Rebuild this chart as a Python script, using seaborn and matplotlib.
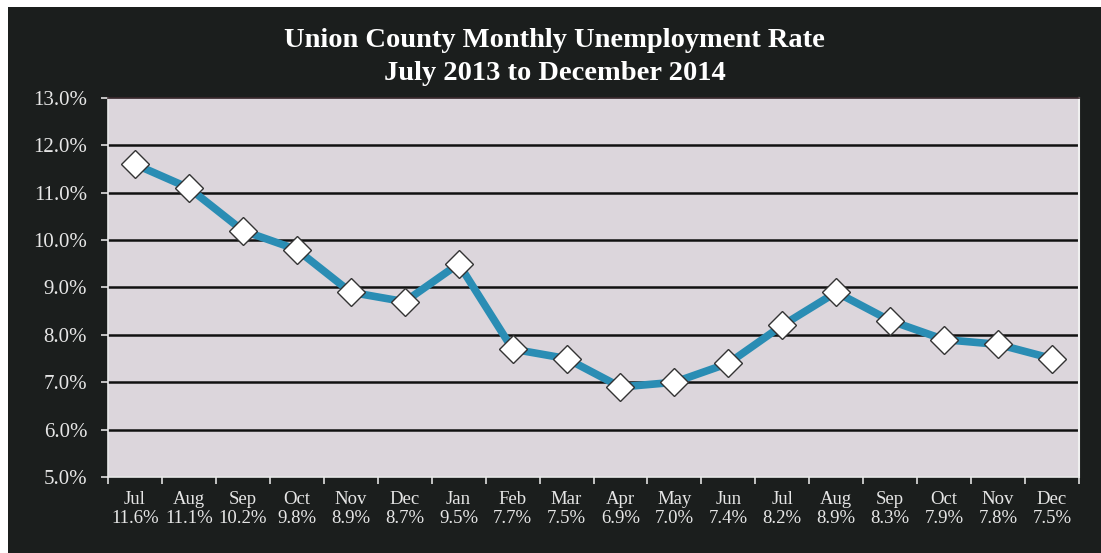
import numpy as np
import matplotlib
matplotlib.use("Agg")
import matplotlib.pyplot as plt
from matplotlib.patches import Rectangle
import seaborn as sns
import pandas as pd

months = ["Jul", "Aug", "Sep", "Oct", "Nov", "Dec", "Jan", "Feb", "Mar",
          "Apr", "May", "Jun", "Jul", "Aug", "Sep", "Oct", "Nov", "Dec"]
rates = [11.6, 11.1, 10.2, 9.8, 8.9, 8.7, 9.5, 7.7, 7.5,
         6.9, 7.0, 7.4, 8.2, 8.9, 8.3, 7.9, 7.8, 7.5]
y_ticks = [5, 6, 7, 8, 9, 10, 11, 12, 13]

title = "Union County Monthly Unemployment Rate\nJuly 2013 to December 2014"

sns.set_theme(style="white")
plt.rcParams["font.family"] = ["Liberation Serif", "DejaVu Serif"]

df = pd.DataFrame({"pos": np.arange(len(months)), "rate": rates})

fig = plt.figure(figsize=(11.01, 5.53), dpi=100)
fig.patch.set_facecolor("white")
bg = "#1b1e1d"
fig.patches.append(Rectangle((8 / 1101, 0), 1, 1 - 7 / 553, transform=fig.transFigure,
                             facecolor=bg, edgecolor="none", zorder=-10))

ax = fig.add_axes([108 / 1101, 1 - 477 / 553, (1079 - 108) / 1101, (477 - 98) / 553])
ax.set_facecolor("#dcd6dc")

for y in y_ticks[1:-1]:
    ax.axhline(y, color="#111111", lw=1.8, zorder=1)

sns.lineplot(data=df, x="pos", y="rate", ax=ax, color="#2a8db4", lw=5.5,
             marker="D", markersize=14, markerfacecolor="white",
             markeredgecolor="#333333", markeredgewidth=1.0, zorder=3)

ax.set_xlim(-0.5, len(months) - 0.5)
ax.set_ylim(5, 13)
ax.set_yticks(y_ticks)
ax.set_yticklabels([f"{v:.1f}%" for v in y_ticks])
ax.set_xticks(np.arange(len(months)))
ax.set_xticklabels([f"{m}\n{r:.1f}%" for m, r in zip(months, rates)])
ax.set_xticks(np.arange(-0.5, len(months)), minor=True)
ax.set_xlabel("")
ax.set_ylabel("")

ax.tick_params(axis="x", which="major", length=0, pad=10, labelsize=13.5,
               labelcolor="#e6e6e6")
ax.tick_params(axis="x", which="minor", length=5, width=1.2, color="#e0e0e0",
               direction="out", bottom=True)
ax.tick_params(axis="y", length=5, width=1.2, color="#e0e0e0", direction="out",
               left=True, pad=10, labelsize=15, labelcolor="#e6e6e6")
for lbl in ax.get_xticklabels():
    lbl.set_linespacing(1.2)

for side in ["left", "bottom"]:
    ax.spines[side].set_color("#e8e8e8")
    ax.spines[side].set_linewidth(1.2)
ax.spines["top"].set_color("#3a2a2e")
ax.spines["right"].set_color("#f0f0f0")
ax.spines["right"].set_linewidth(1.5)

fig.text(0.5 + 4 / 1101, 1 - 57 / 553, title, ha="center", va="center",
         color="white", fontsize=20.5, fontweight="bold", linespacing=1.4)

fig.savefig("out.png", dpi=100, facecolor=fig.get_facecolor())
